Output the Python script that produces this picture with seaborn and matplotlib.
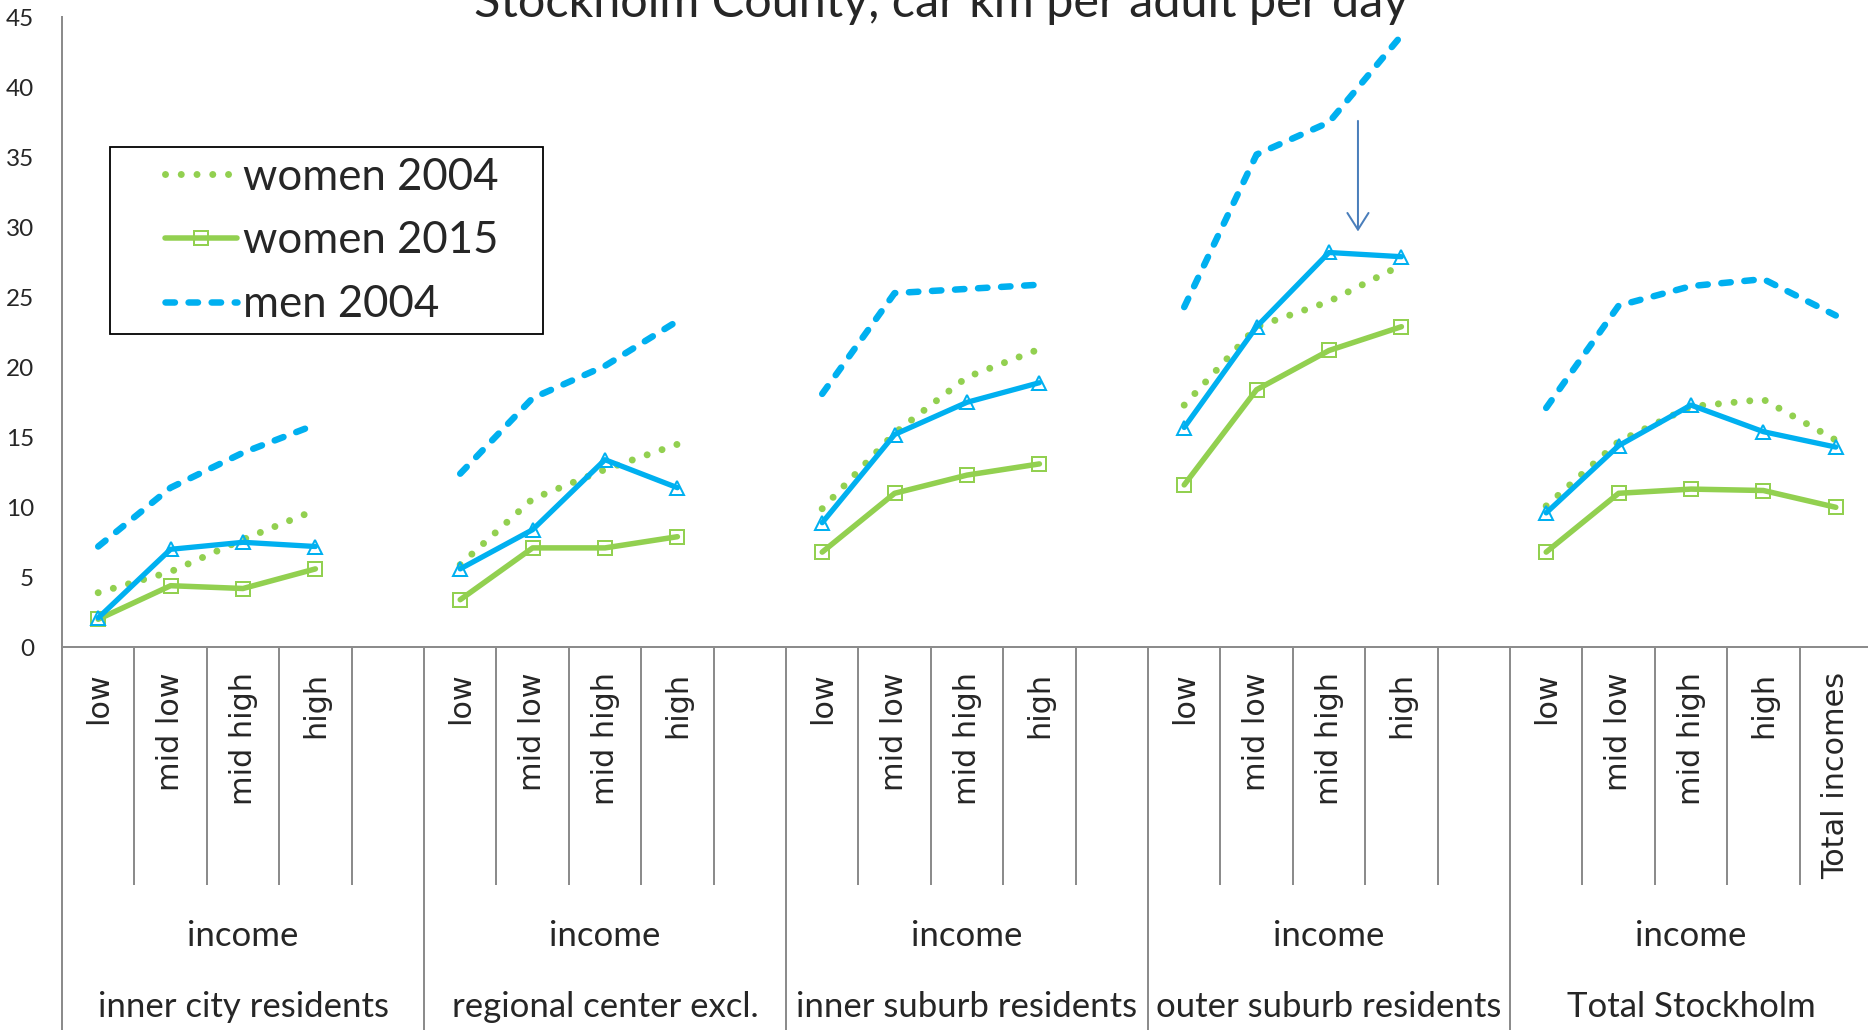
import numpy as np
import pandas as pd
import matplotlib
matplotlib.use("Agg")
import matplotlib.pyplot as plt
from matplotlib.lines import Line2D
from matplotlib.patches import Rectangle
import seaborn as sns

# ---------------------------------------------------------------- data
title = "Stockholm County, car km per adult per day"
districts = ["inner city residents", "regional center excl.", "inner suburb residents",
             "outer suburb residents", "Total Stockholm"]
income_levels = ["low", "mid low", "mid high", "high"]
total_label = "Total incomes"
group_caption = "income"

women_2004 = [[3.9, 5.4, 7.7, 9.8], [5.9, 10.6, 12.7, 14.5], [9.9, 15.3, 19.3, 21.3],
              [17.3, 22.9, 24.7, 27.3], [10.1, 14.7, 17.2, 17.7, 14.8]]
women_2015 = [[2.0, 4.4, 4.2, 5.6], [3.4, 7.1, 7.1, 7.9], [6.8, 11.0, 12.3, 13.1],
              [11.6, 18.4, 21.2, 22.9], [6.8, 11.0, 11.3, 11.2, 10.0]]
men_2004 = [[7.2, 11.4, 13.9, 15.9], [12.4, 17.8, 20.1, 23.3], [18.1, 25.3, 25.6, 25.9],
            [24.3, 35.2, 37.5, 43.7], [17.1, 24.4, 25.8, 26.3, 23.7]]
men_2015 = [[2.1, 7.0, 7.5, 7.2], [5.6, 8.4, 13.4, 11.4], [8.9, 15.2, 17.5, 18.9],
            [15.7, 22.9, 28.2, 27.9], [9.6, 14.4, 17.3, 15.4, 14.3]]

series = {"women 2004": women_2004, "women 2015": women_2015,
          "men 2004": men_2004, "men 2015": men_2015}
legend_names = ["women 2004", "women 2015", "men 2004"]

# ---------------------------------------------------------------- long table
SLOTS_PER_GROUP = 5
rows = []
for name, groups in series.items():
    for g, vals in enumerate(groups):
        for k, v in enumerate(vals):
            rows.append({"series": name, "district": g,
                         "slot": g * SLOTS_PER_GROUP + k, "value": v})
df = pd.DataFrame(rows)
n_slots = SLOTS_PER_GROUP * len(districts)

tick_labels = []
for g in range(len(districts)):
    tick_labels += income_levels + ([total_label] if g == len(districts) - 1 else [""])

# ---------------------------------------------------------------- style
GREEN = "#92D050"
BLUE = "#00B0F0"
AXIS_GREY = "#8C8C8C"
ARROW = "#4A7EBB"
W, H, DPI = 1868, 1030, 100
px = 72.0 / DPI  # points per pixel

sns.set_style("white")
plt.rcParams["font.family"] = ["Lato", "DejaVu Sans"]

line_styles = {
    "women 2004": dict(color=GREEN, lw=7 * px, linestyle=(0, (0.001, 2.25)),
                       dash_capstyle="round"),
    "women 2015": dict(color=GREEN, lw=5.5 * px, marker="s", ms=13.5 * px,
                       mfc="none", mec=GREEN, mew=2 * px),
    "men 2004": dict(color=BLUE, lw=6.5 * px, linestyle=(0, (1.45, 2.1)),
                     dash_capstyle="round"),
    "men 2015": dict(color=BLUE, lw=5.3 * px, marker="^", ms=14.5 * px,
                     mfc="none", mec=BLUE, mew=2 * px),
}

fig = plt.figure(figsize=(W / DPI, H / DPI), dpi=DPI)
x0, y_base, slot_w, y_unit = 62, 647.3, 72.4, 14.0
ax = fig.add_axes([x0 / W, (H - y_base) / H, n_slots * slot_w / W, 45 * y_unit / H])

for name, kw in line_styles.items():
    sub = df[df["series"] == name]
    sns.lineplot(data=sub, x="slot", y="value", units="district", estimator=None,
                 sort=False, ax=ax, legend=False, **kw)

ax.set_xlim(-0.5, n_slots - 0.5)
ax.set_ylim(0, 45)
ax.set_yticks(np.arange(0, 46, 5))
ax.set_xticks(np.arange(n_slots))
ax.set_xticklabels(tick_labels, rotation=90, fontfamily="DejaVu Sans", fontsize=21.8)
ax.set_xlabel("")
ax.set_ylabel("")
ax.tick_params(axis="x", length=0, pad=25 * px)
ax.tick_params(axis="y", length=9 * px, width=2 * px, color=AXIS_GREY,
               pad=19 * px, labelsize=17.5)
for side in ("top", "right"):
    ax.spines[side].set_visible(False)
for side in ("left", "bottom"):
    ax.spines[side].set_color(AXIS_GREY)
    ax.spines[side].set_linewidth(2 * px)

# category separators below the axis
xt = ax.get_xaxis_transform()
to_axes = lambda ypix: (y_base - ypix) / (45 * y_unit)
for s in range(n_slots + 1):
    edge = s - 0.5
    bottom = to_axes(H + 5) if s % SLOTS_PER_GROUP == 0 else to_axes(885)
    ax.vlines(edge, bottom, 0, transform=xt, colors=AXIS_GREY, lw=2 * px,
              clip_on=False)

# group captions
for g, name in enumerate(districts):
    centre = g * SLOTS_PER_GROUP + 2
    ax.text(centre, to_axes(936), group_caption, transform=xt,
            ha="center", va="center", fontsize=25)
    ax.text(centre, to_axes(1007), name, transform=xt,
            ha="center", va="center", fontsize=25)

# arrow pointing at the outer suburb mid-high men 2015 value
ax.annotate("", xy=(17.4, 29.7), xytext=(17.4, 37.6),
            arrowprops=dict(arrowstyle="->,head_length=0.6,head_width=0.38",
                            color=ARROW, lw=2 * px, mutation_scale=20,
                            shrinkA=0, shrinkB=0))

# legend: entries without their own frame, boxed by a plain rectangle
box = Rectangle((110 / W, 1 - 334 / H), 433 / W, 187 / H, transform=fig.transFigure,
                facecolor="white", edgecolor="black", lw=1.8 * px, zorder=4,
                clip_on=False)
ax.add_patch(box)
handles = [Line2D([], [], **line_styles[n]) for n in legend_names]
leg = ax.legend(handles, legend_names, loc="center left",
                bbox_to_anchor=(165 / W, 1 - 241 / H), bbox_transform=fig.transFigure,
                borderaxespad=0, borderpad=0, fontsize=31.5, handlelength=1.65,
                handletextpad=0.14, labelspacing=0.52, frameon=False)
leg.set_zorder(5)

fig.text(941 / W, 1 - 17 / H, title, ha="center", va="baseline", fontsize=35)

fig.savefig("out.png", dpi=DPI)
